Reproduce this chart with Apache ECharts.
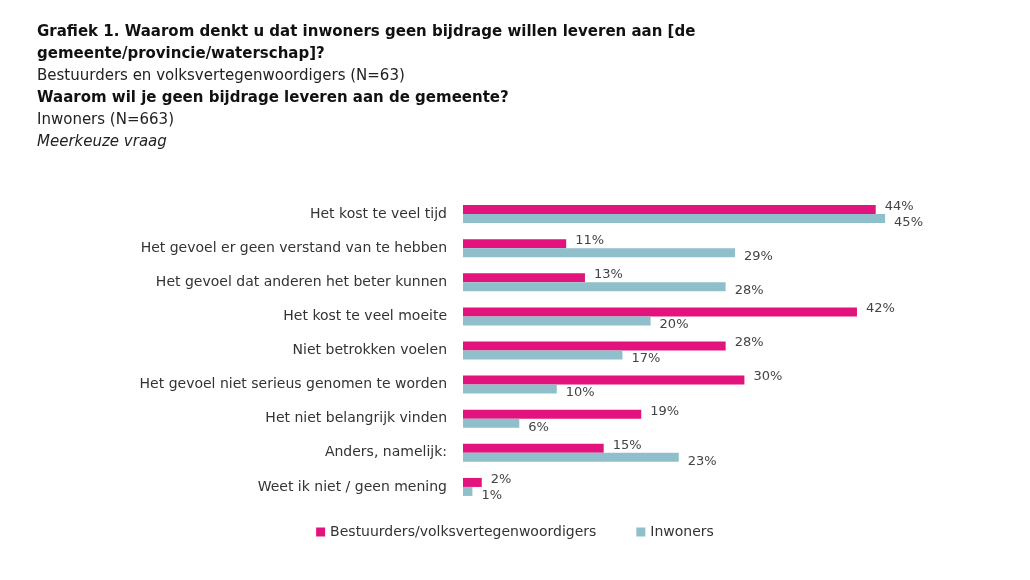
<!DOCTYPE html>
<html><head><meta charset="utf-8">
<script src="https://cdn.jsdelivr.net/npm/echarts@6/dist/echarts.min.js"></script>
<style>body{margin:0;background:#fff}#c{width:1030px;height:580px}</style>
</head><body><div id="c"></div>
<script>
var categories = ['Het kost te veel tijd','Het gevoel er geen verstand van te hebben','Het gevoel dat anderen het beter kunnen','Het kost te veel moeite','Niet betrokken voelen','Het gevoel niet serieus genomen te worden','Het niet belangrijk vinden','Anders, namelijk:','Weet ik niet / geen mening'];
var bestuurders = [44, 11, 13, 42, 28, 30, 19, 15, 2];
var inwoners = [45, 29, 28, 20, 17, 10, 6, 23, 1];

var myChart = echarts.init(document.getElementById('c'));
var font = 'DejaVu Sans';
var option = {
    animation: false,
    textStyle: {fontFamily: font},
    title: {
        left: 32, top: 16,
        text: '{b|Grafiek 1. Waarom denkt u dat inwoners geen bijdrage willen leveren aan [de}\n{b|gemeente/provincie/waterschap]?}\n{n|Bestuurders en volksvertegenwoordigers (N=63)}\n{b|Waarom wil je geen bijdrage leveren aan de gemeente?}\n{n|Inwoners (N=663)}\n{i|Meerkeuze vraag}',
        textStyle: {
            fontWeight: 'normal',
            rich: {
                b: {fontFamily: font, fontWeight: 'bold', fontSize: 15, color: '#111', lineHeight: 22},
                n: {fontFamily: font, fontWeight: 'normal', fontSize: 15, color: '#222', lineHeight: 22},
                i: {fontFamily: font, fontWeight: 'normal', fontStyle: 'italic', fontSize: 15, color: '#222', lineHeight: 22}
            }
        }
    },
    legend: {
        bottom: 36, left: 'center', itemGap: 40, itemWidth: 9, itemHeight: 9, icon: 'rect',
        textStyle: {fontSize: 14, color: '#333'},
        data: ['Bestuurders/volksvertegenwoordigers', 'Inwoners']
    },
    grid: {left: 463, right: 98, top: 197, bottom: 76},
    xAxis: {type: 'value', min: 0, max: 50, show: false},
    yAxis: {
        type: 'category', inverse: true, data: categories,
        axisLine: {show: false}, axisTick: {show: false},
        axisLabel: {fontSize: 14, color: '#333', margin: 16}
    },
    series: [
        {
            name: 'Bestuurders/volksvertegenwoordigers', type: 'bar', data: bestuurders,
            barWidth: 9, barGap: '0%', itemStyle: {color: '#e2137c'},
            label: {show: true, position: 'right', formatter: '{c}%', fontSize: 13, color: '#444', offset: [4, -3]}
        },
        {
            name: 'Inwoners', type: 'bar', data: inwoners,
            barWidth: 9, itemStyle: {color: '#8fbfca'},
            label: {show: true, position: 'right', formatter: '{c}%', fontSize: 13, color: '#444', offset: [4, 4]}
        }
    ]
};
myChart.setOption(option, true);
</script>
</body></html>
